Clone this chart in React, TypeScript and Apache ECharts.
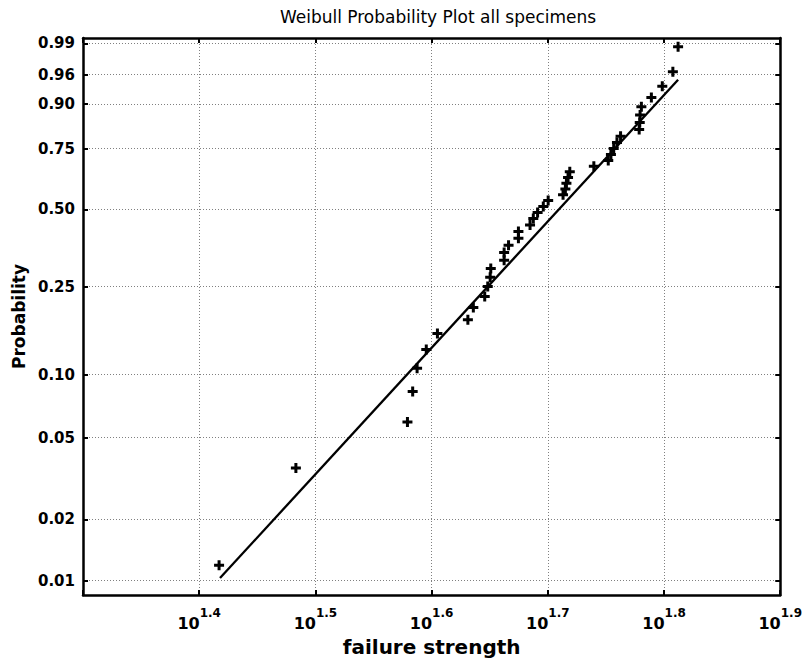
import React, { useEffect, useRef } from 'react';
import * as echarts from 'echarts';

const chartTitle = 'Weibull Probability Plot all specimens';
const xAxisTitle = 'failure strength';
const yAxisTitle = 'Probability';

// log10 of failure strength for each specimen (sorted)
const logStrength = [
  1.4171, 1.4832, 1.5792, 1.5837, 1.5875, 1.5954, 1.605, 1.6312, 1.6359, 1.6457,
  1.6483, 1.6504, 1.6509, 1.6624, 1.6624, 1.6662, 1.6747, 1.6747, 1.6847, 1.6875,
  1.6912, 1.6961, 1.7003, 1.7131, 1.7151, 1.716, 1.7174, 1.7189, 1.7396, 1.752,
  1.7543, 1.7567, 1.7595, 1.7626, 1.7786, 1.7791, 1.7794, 1.7805, 1.7891, 1.7985,
  1.8076, 1.8121,
];

// plotted probability of each specimen
const probability = [
  0.0119, 0.0357, 0.0595, 0.0833, 0.1071, 0.131, 0.1548, 0.1786, 0.2024, 0.2262,
  0.25, 0.2738, 0.2976, 0.3214, 0.3452, 0.369, 0.3929, 0.4167, 0.4405, 0.4643,
  0.4881, 0.5119, 0.5357, 0.5595, 0.5833, 0.6071, 0.631, 0.6548, 0.6786, 0.7024,
  0.7262, 0.75, 0.7738, 0.7976, 0.8214, 0.8452, 0.869, 0.8929, 0.9167, 0.9405,
  0.9643, 0.9881,
];

// fitted reference line end points
const fitLogStrength = [1.4179, 1.8121];
const fitProbability = [0.0103, 0.9523];

const probabilityTicks = [0.01, 0.02, 0.05, 0.1, 0.25, 0.5, 0.75, 0.9, 0.96, 0.99];
const probabilityLimits = [0.0085, 0.9925];
const xLimits = [1.3, 1.9];
const xTickStep = 0.1;

const weibullY = (p: number) => Math.log(-Math.log(1 - p));
const inverseWeibullY = (w: number) => 1 - Math.exp(-Math.exp(w));

const FONT = 'DejaVu Sans';
const PLUS = 'path://M3.5,0h3v3.5h3.5v3h-3.5v3.5h-3v-3.5h-3.5v-3h3.5z';

export default function App() {
  const ref = useRef<HTMLDivElement>(null);

  useEffect(() => {
    if (!ref.current) return;
    const chart = echarts.init(ref.current, undefined, { renderer: 'svg' });

    const yTicks = probabilityTicks.map(weibullY);
    const yMin = weibullY(probabilityLimits[0]);
    const yMax = weibullY(probabilityLimits[1]);

    const axisLine = { show: true, onZero: false, lineStyle: { color: '#000', width: 2.5 } };
    const tickStyle = { color: '#000', width: 2 };
    const gridLine = { show: true, lineStyle: { color: '#808080', width: 1, type: [1, 2] } };

    const option: any = {
      animation: false,
      backgroundColor: '#ffffff',
      title: {
        text: chartTitle,
        left: 433,
        textAlign: 'center',
        top: 3,
        textStyle: { fontFamily: FONT, fontWeight: 'normal', fontSize: 17, color: '#000' },
      },
      grid: { left: 83, right: 21, top: 38, bottom: 67 },
      xAxis: [
        {
          type: 'value',
          position: 'bottom',
          min: xLimits[0],
          max: xLimits[1],
          interval: xTickStep,
          name: xAxisTitle,
          nameLocation: 'middle',
          nameGap: 42,
          nameTextStyle: { fontFamily: FONT, fontWeight: 'bold', fontSize: 20, color: '#000' },
          axisLine,
          axisTick: { show: true, inside: true, length: 5, lineStyle: tickStyle },
          axisLabel: {
            margin: 8,
            formatter: (v: number) =>
              Math.abs(v - xLimits[0]) < 1e-6 ? '' : `{b|10}{s|${v.toFixed(1)}}`,
            rich: {
              b: { fontFamily: FONT, fontWeight: 'bold', fontSize: 16, color: '#000', padding: [12, 0, 0, 0] },
              s: { fontFamily: FONT, fontWeight: 'bold', fontSize: 12, color: '#000', padding: [0, 0, 9, 0] },
            },
          },
          splitLine: gridLine,
        },
        {
          type: 'value',
          position: 'top',
          min: xLimits[0],
          max: xLimits[1],
          interval: xTickStep,
          axisLine,
          axisTick: { show: true, inside: true, length: 5, lineStyle: tickStyle },
          axisLabel: { show: false },
          splitLine: { show: false },
        },
      ],
      yAxis: [
        {
          type: 'value',
          position: 'left',
          min: yMin,
          max: yMax,
          name: yAxisTitle,
          nameLocation: 'middle',
          nameGap: 56,
          nameTextStyle: { fontFamily: FONT, fontWeight: 'bold', fontSize: 17, color: '#000' },
          axisLine,
          axisTick: { show: true, inside: true, length: 5, customValues: yTicks, lineStyle: tickStyle },
          axisLabel: {
            customValues: yTicks,
            margin: 8,
            fontFamily: FONT,
            fontWeight: 'bold',
            fontSize: 15,
            color: '#000',
            formatter: (w: number) => inverseWeibullY(w).toFixed(2),
          },
          splitLine: gridLine,
        },
        {
          type: 'value',
          position: 'right',
          min: yMin,
          max: yMax,
          axisLine,
          axisTick: { show: true, inside: true, length: 5, customValues: yTicks, lineStyle: tickStyle },
          axisLabel: { show: false },
          splitLine: { show: false },
        },
      ],
      series: [
        {
          type: 'line',
          xAxisIndex: 0,
          yAxisIndex: 0,
          data: fitLogStrength.map((x, i) => [x, weibullY(fitProbability[i])]),
          symbol: 'none',
          lineStyle: { color: '#000', width: 2.3 },
          z: 3,
        },
        {
          type: 'scatter',
          xAxisIndex: 0,
          yAxisIndex: 0,
          data: logStrength.map((x, i) => [x, weibullY(probability[i])]),
          symbol: PLUS,
          symbolSize: 10,
          itemStyle: { color: '#000', opacity: 1 },
          z: 4,
        },
      ],
    };

    chart.setOption(option);
    return () => chart.dispose();
  }, []);

  return (
    <div
      ref={ref}
      style={{ position: 'fixed', left: 0, top: 0, width: 805, height: 662, background: '#fff' }}
    />
  );
}
